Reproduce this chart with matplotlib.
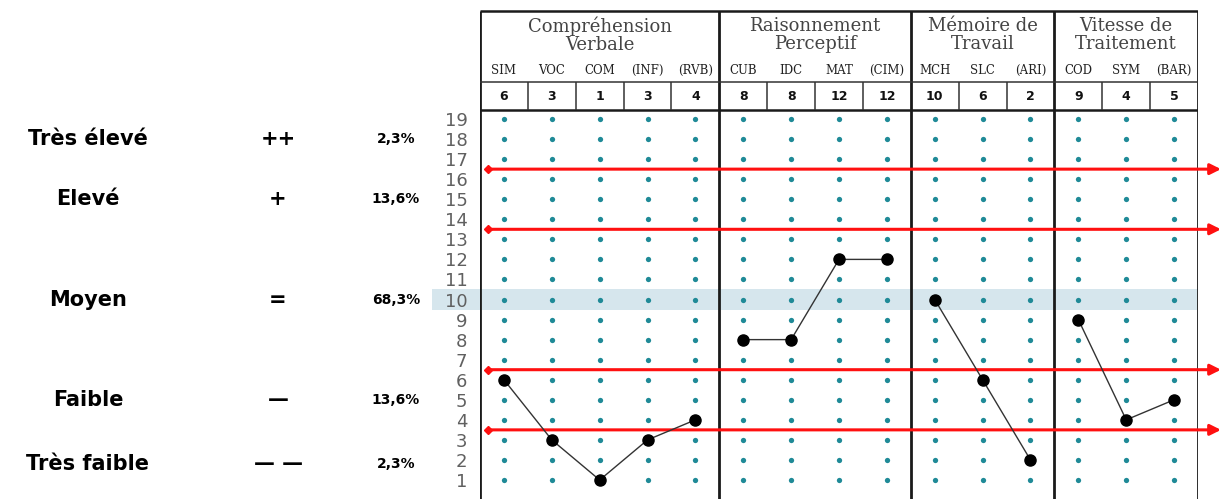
import numpy as np
import matplotlib.pyplot as plt
import matplotlib.transforms as mtransforms

# Profil WISC : indices, subtests et notes standard
groups = ["Compréhension\nVerbale", "Raisonnement\nPerceptif", "Mémoire de\nTravail", "Vitesse de\nTraitement"]
group_sizes = [5, 4, 3, 3]
subtests = ["SIM", "VOC", "COM", "(INF)", "(RVB)", "CUB", "IDC", "MAT", "(CIM)",
            "MCH", "SLC", "(ARI)", "COD", "SYM", "(BAR)"]
scores = [6, 3, 1, 3, 4, 8, 8, 12, 12, 10, 6, 2, 9, 4, 5]
score_range = list(range(1, 20))
mean_score = 10
cutoffs = [16.5, 13.5, 6.5, 3.5]

levels = ["Très élevé", "Elevé", "Moyen", "Faible", "Très faible"]
level_signs = ["++", "+", "=", "—", "— —"]
level_pcts = ["2,3%", "13,6%", "68,3%", "13,6%", "2,3%"]
level_y = [18, 15, 10, 5, 1.8]

# Figure
fig = plt.figure(figsize=(12.22, 4.99), dpi=100)
ax = fig.add_axes([480 / 1222, 0, 718 / 1222, 489 / 499])
n = len(subtests)
y_bot, y_top = 0.053, 24.435
ax.set_xlim(-0.5, n - 0.5)
ax.set_ylim(y_bot, y_top)
for s in ax.spines.values():
    s.set_visible(False)
ax.set_xticks([])
ax.set_yticks(score_range)
ax.tick_params(axis="y", length=0, pad=9, labelsize=13, labelcolor="#606060")

# bande de la moyenne
ax.axhspan(mean_score - 0.5, mean_score + 0.5, xmin=-48 / 718, xmax=1,
           color="#d6e6ed", lw=0, zorder=0, clip_on=False)

# points de la grille
gx, gy = np.meshgrid(np.arange(n), score_range)
ax.plot(gx.ravel(), gy.ravel(), "o", ms=3.8, color="#1f8a97", mec="none", zorder=2)

# séparateurs
bounds = np.concatenate([[0], np.cumsum(group_sizes)]) - 0.5
row_abbr = 20.845
row_score = 19.449
top_line = y_top - 0.05
ax.vlines(bounds, y_bot, top_line, color="#1a1a1a", lw=2.0, zorder=3)
ax.hlines([top_line, row_score], -0.5, n - 0.5, color="#1a1a1a", lw=1.8, zorder=3)
ax.hlines(row_abbr, -0.5, n - 0.5, color="#333333", lw=1.1, zorder=3)
inner = [i + 0.5 for i in range(n - 1) if (i + 0.5) not in bounds]
ax.vlines(inner, row_score, row_abbr, color="#333333", lw=1.1, zorder=3)

# en-têtes
for g, name in enumerate(groups):
    xc = (bounds[g] + bounds[g + 1]) / 2
    ax.text(xc, 23.2, name, ha="center", va="center", fontsize=13,
            family="DejaVu Serif", color="#444444", linespacing=1.0)
for i, (ab, sc) in enumerate(zip(subtests, scores)):
    ax.text(i, 21.44, ab, ha="center", va="center", fontsize=8.5,
            family="DejaVu Serif", color="#222222")
    ax.text(i, 20.12, str(sc), ha="center", va="center", fontsize=9,
            fontweight="bold", color="#111111")

# seuils
x_start = -0.333
x_end = 14.98
for c in cutoffs:
    ax.annotate("", xy=(x_end, c), xytext=(x_start, c), annotation_clip=False,
                arrowprops=dict(arrowstyle="-|>", color="#ff1010", lw=2.2,
                                mutation_scale=16, shrinkA=0, shrinkB=0),
                zorder=4)
    ax.plot(x_start, c, "D", ms=4.5, color="#ff1010", clip_on=False, zorder=4)

# profil
start = 0
for size in group_sizes:
    xs = np.arange(start, start + size)
    ax.plot(xs, scores[start:start + size], "-", color="#333333", lw=1.0,
            marker="o", ms=8, mfc="black", mec="black", zorder=5)
    start += size

# légende des niveaux
trans = mtransforms.blended_transform_factory(fig.transFigure, ax.transData)
for lab, sign, pct, yl in zip(levels, level_signs, level_pcts, level_y):
    ax.text(88 / 1222, yl, lab, transform=trans, ha="center", va="center",
            fontsize=15, fontweight="bold", color="black")
    ax.text(278 / 1222, yl, sign, transform=trans, ha="center", va="center",
            fontsize=15, fontweight="bold", color="black")
    ax.text(396 / 1222, yl, pct, transform=trans, ha="center", va="center",
            fontsize=10, fontweight="bold", color="black")

fig.savefig("out.png", dpi=100)
